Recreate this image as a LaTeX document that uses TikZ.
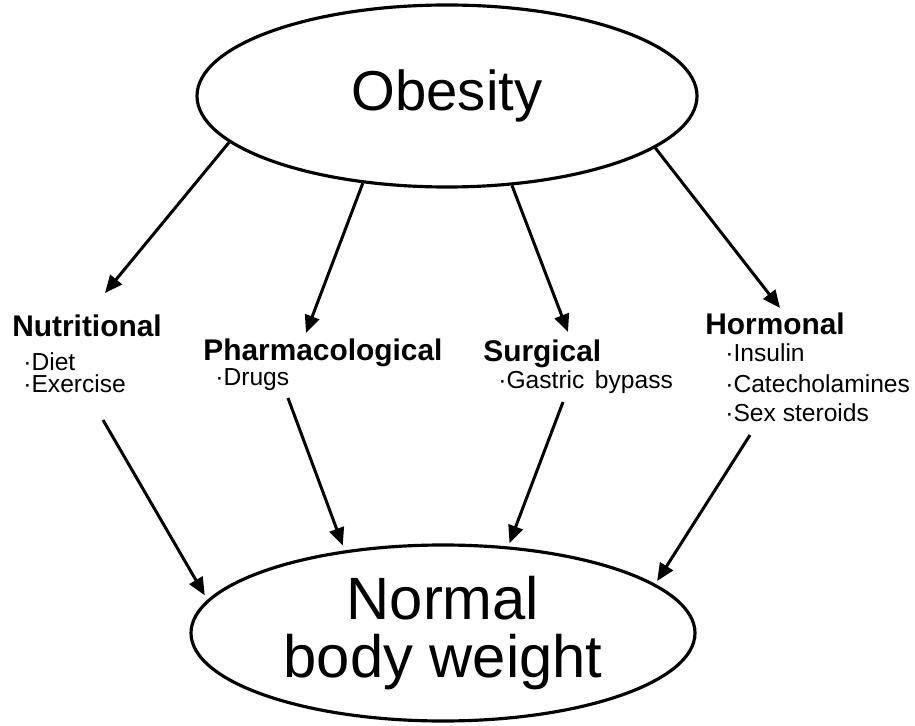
\documentclass[tikz,border=0pt]{standalone}
\usepackage{fontspec}
\setmainfont{Liberation Sans}
\usetikzlibrary{arrows.meta,shapes.geometric}

\begin{document}
\begin{tikzpicture}[x=0.2mm, y=-0.2mm,
    blob/.style={draw, ellipse, line width=1.8pt, inner sep=0pt, align=center},
    head/.style={anchor=base west, inner sep=0pt, font=\fontsize{17}{20}\selectfont\bfseries},
    item/.style={anchor=base west, inner sep=0pt, font=\fontsize{14}{17}\selectfont},
    arrow/.style={-{Triangle[length=10pt, width=8.5pt]}, line width=1.7pt}
]
\useasboundingbox (0,0) rectangle (915,726);

% Start and goal
\node[blob, minimum width=10cm, minimum height=3.64cm, font=\fontsize{32}{32}\selectfont] (obesity) at (447,96) {Obesity};
\node[blob, minimum width=10.08cm, minimum height=3.52cm, font=\fontsize{34}{33}\selectfont] (normal) at (443,633) {Normal\\body weight};

% Treatments
\node[head] (nutr) at (12,337) {Nutritional};
\node[item] (diet) at (23,371) {·Diet};
\node[item] (exer) at (23,393) {·Exercise};
\node[head] (pharm) at (203,361) {Pharmacological};
\node[item] (drugs) at (215,386) {·Drugs};
\node[head] (surg) at (483,362) {Surgical};
\node[item] (bypass) at (498,389) {·Gastric\hspace{6pt}bypass};
\node[head] (horm) at (705,335) {Hormonal};
\node[item] (insulin) at (725,362) {·Insulin};
\node[item] (catech) at (725,392) {·Catecholamines};
\node[item] (steroids) at (725,422) {·Sex steroids};

% Free arrow ends
\coordinate (nutr-in) at (105,293);
\coordinate (pharm-in) at (306,333);
\coordinate (surg-in) at (568,332);
\coordinate (horm-in) at (780,308);
\coordinate (nutr-out) at (103,420);
\coordinate (pharm-out) at (288,398);
\coordinate (surg-out) at (563,402);
\coordinate (horm-out) at (750,435);

% Obesity to treatments
\draw[arrow] (obesity.192) -- (nutr-in);
\draw[arrow] (obesity.226) -- (pharm-in);
\draw[arrow] (obesity.306) -- (surg-in);
\draw[arrow] (obesity.346) -- (horm-in);

% Treatments to normal weight
\draw[arrow, shorten >=3pt] (nutr-out) -- (normal.172);
\draw[arrow, shorten >=3pt] (pharm-out) -- (normal.140);
\draw[arrow, shorten >=2pt] (surg-out) -- (normal.53);
\draw[arrow, shorten >=2pt] (horm-out) -- (normal.13);

\end{tikzpicture}
\end{document}
